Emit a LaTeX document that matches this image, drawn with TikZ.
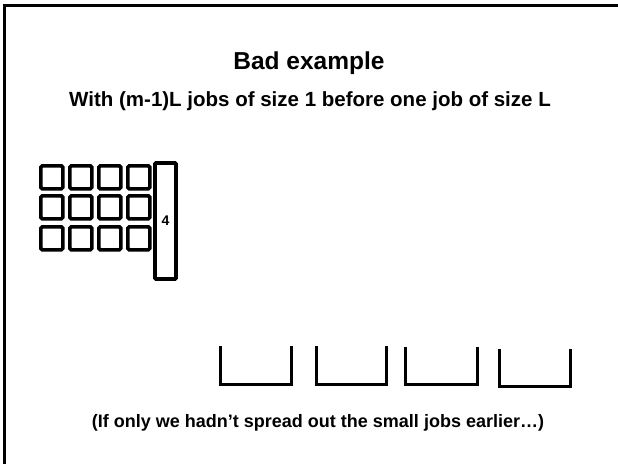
\documentclass[tikz,border=0pt]{standalone}
\usepackage{fontspec}
\setmainfont{Liberation Sans}
\begin{document}
\begin{tikzpicture}[x=1pt,y=-1pt,
  job/.style={draw=black,line width=3.6pt,rounded corners=1.5pt,minimum width=22pt,minimum height=23pt,inner sep=0pt,anchor=north west},
  bigjob/.style={draw=black,line width=3.6pt,rounded corners=1pt,minimum width=21pt,minimum height=116pt,inner sep=0pt,font=\bfseries\fontsize{14}{16}\selectfont},
  bin/.style={line width=3pt,line cap=rect},
  txt/.style={font=\bfseries}]
\useasboundingbox (0,0) rectangle (618,463);
\fill[white] (0,0) rectangle (618,463);
% frame
\coordinate (ftl) at (4.5,5.5);
\coordinate (ftr) at (620,5.5);
\coordinate (fbl) at (4.5,465);
\draw[line width=2.6pt] (fbl) -- (ftl) -- (ftr);
% texts
\node[txt,font=\bfseries\fontsize{24.5}{28}\selectfont] (title) at (309,63) {Bad example};
\node[txt,font=\bfseries\fontsize{20.5}{24}\selectfont] (sub) at (310,101) {With (m-1)L jobs of size 1 before one job of size L};
\node[txt,font=\bfseries\fontsize{18}{21}\selectfont] (note) at (318,423) {(If only we hadn’t spread out the small jobs earlier…)};
% small jobs
\foreach \r/\yy in {1/164,2/194,3/225}{
  \foreach \c/\xx in {1/39,2/68,3/97,4/126}{
    \node[job] (j\r\c) at (\xx,\yy) {};
  }
}
\node[bigjob] (big) at (165.5,221) {4};
% bins
\foreach \i/\xl/\xr/\yt/\yb in {1/220/291/347/384,2/316/386/347/384,3/405/477/348/384,4/499/570/350/386}{
  \coordinate (b\i a) at (\xl,\yt);
  \coordinate (b\i b) at (\xl,\yb);
  \coordinate (b\i c) at (\xr,\yb);
  \coordinate (b\i d) at (\xr,\yt);
  \draw[bin] (b\i a) -- (b\i b) -- (b\i c) -- (b\i d);
}
\end{tikzpicture}
\end{document}
